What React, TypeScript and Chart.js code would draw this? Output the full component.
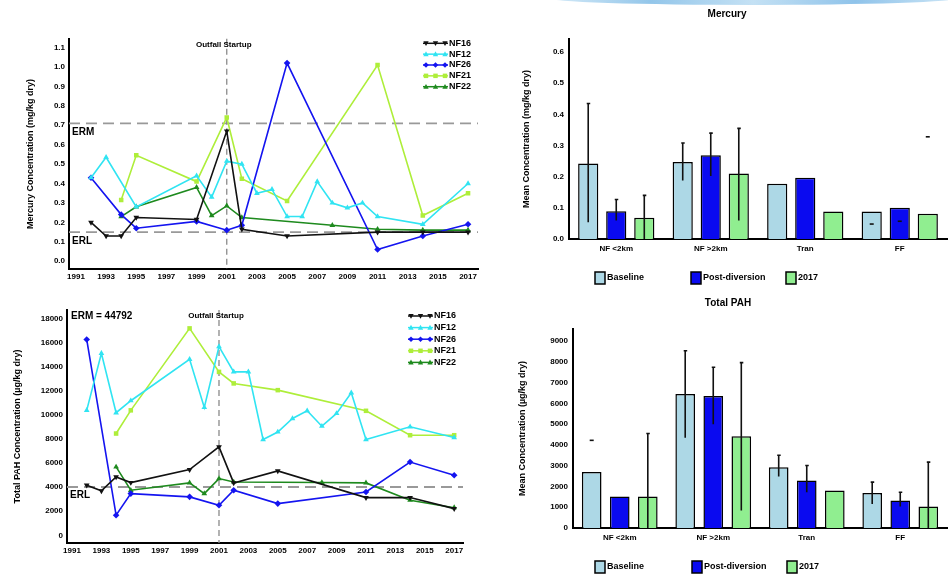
import React, { useEffect, useRef } from "react";
import { Chart, registerables } from "chart.js";

Chart.register(...registerables);

const FONT = "'Liberation Sans', Arial, sans-serif";

// ---------- Mercury time series (mg/kg dry) ----------
const hgNF16Years = [1992, 1993, 1994, 1995, 1999, 2001, 2002, 2005, 2011, 2014, 2017];
const hgNF16 = [0.2, 0.13, 0.13, 0.225, 0.215, 0.67, 0.165, 0.13, 0.15, 0.15, 0.15];
const hgNF12Years = [1992, 1993, 1995, 1999, 2000, 2001, 2002, 2003, 2004, 2005, 2006, 2007, 2008, 2009, 2010, 2011, 2014, 2017];
const hgNF12 = [0.43, 0.535, 0.28, 0.44, 0.33, 0.515, 0.5, 0.35, 0.37, 0.23, 0.23, 0.41, 0.3, 0.275, 0.3, 0.23, 0.19, 0.4];
const hgNF26Years = [1992, 1994, 1995, 1999, 2001, 2002, 2005, 2011, 2014, 2017];
const hgNF26 = [0.43, 0.24, 0.17, 0.205, 0.16, 0.185, 1.02, 0.06, 0.13, 0.19];
const hgNF21Years = [1994, 1995, 1999, 2001, 2002, 2005, 2011, 2014, 2017];
const hgNF21 = [0.315, 0.545, 0.41, 0.74, 0.425, 0.31, 1.01, 0.235, 0.35];
const hgNF22Years = [1994, 1995, 1999, 2000, 2001, 2002, 2008, 2011, 2014, 2017];
const hgNF22 = [0.23, 0.28, 0.38, 0.235, 0.285, 0.225, 0.185, 0.165, 0.16, 0.16];
const hgYTicks = [0, 0.1, 0.2, 0.3, 0.4, 0.5, 0.6, 0.7, 0.8, 0.9, 1.0, 1.1];
const hgERM = 0.71;
const hgERL = 0.15;

// ---------- Total PAH time series ----------
const pahNF16Years = [1992, 1993, 1994, 1995, 1999, 2001, 2002, 2005, 2011, 2014, 2017];
const pahNF16 = [4170, 3700, 4860, 4390, 5470, 7360, 4360, 5360, 3140, 3140, 2220];
const pahNF12Years = [1992, 1993, 1994, 1995, 1999, 2000, 2001, 2002, 2003, 2004, 2005, 2006, 2007, 2008, 2009, 2010, 2011, 2014, 2017];
const pahNF12 = [10400, 15140, 10200, 11200, 14640, 10640, 15700, 13600, 13600, 7970, 8600, 9720, 10360, 9080, 10140, 11860, 7970, 9030, 8140];
const pahNF26Years = [1992, 1994, 1995, 1999, 2001, 2002, 2005, 2011, 2014, 2017];
const pahNF26 = [16300, 1670, 3470, 3200, 2500, 3750, 2640, 3610, 6100, 5000];
const pahNF21Years = [1994, 1995, 1999, 2001, 2002, 2005, 2011, 2014, 2017];
const pahNF21 = [8470, 10400, 17220, 13600, 12640, 12080, 10360, 8330, 8330];
const pahNF22Years = [1994, 1995, 1999, 2000, 2001, 2002, 2008, 2011, 2014, 2017];
const pahNF22 = [5690, 3750, 4360, 3470, 4720, 4440, 4400, 4360, 2920, 2300];
const pahYTicks = [0, 2000, 4000, 6000, 8000, 10000, 12000, 14000, 16000, 18000];
const pahERL = 4022;
const pahERMText = "ERM = 44792";

const yearTicks = [1991, 1993, 1995, 1997, 1999, 2001, 2003, 2005, 2007, 2009, 2011, 2013, 2015, 2017];
const outfallYear = 2001;

// ---------- Bar charts ----------
const zones = ["NF <2km", "NF >2km", "Tran", "FF"];
const periods = ["Baseline", "Post-diversion", "2017"];
const periodColors = ["#ADD8E6", "#0A0AF0", "#90EE90"];

const hgBaseline = [0.242, 0.247, 0.177, 0.088];
const hgPost = [0.089, 0.269, 0.197, 0.1];
const hg2017 = [0.068, 0.21, 0.088, 0.081];
const hgBaselineErr = [[0.054, 0.435], [0.188, 0.308], null, null];
const hgPostErr = [[0.059, 0.127], [0.202, 0.34], null, null];
const hg2017Err = [[0, 0.14], [0.059, 0.355], null, null];
const hgBaselineMark = [null, null, null, 0.048];
const hgPostMark = [null, null, null, 0.057];
const hg2017Mark = [null, null, null, 0.328];
const hgBarTicks = [0, 0.1, 0.2, 0.3, 0.4, 0.5, 0.6];

const pahBaseline = [2690, 6450, 2930, 1680];
const pahPost = [1515, 6350, 2290, 1320];
const pah2017 = [1515, 4420, 1800, 1030];
const pahBaselineErr = [null, [4340, 8530], [2480, 3500], [1160, 2210]];
const pahPostErr = [null, [5000, 7740], [1720, 3010], [1030, 1720]];
const pah2017Err = [[0, 4550], [840, 7960], null, [0, 3170]];
const pahBaselineMark = [4220, null, null, null];
const pahPostMark = [null, null, null, null];
const pah2017Mark = [null, null, null, null];
const pahBarTicks = [0, 1000, 2000, 3000, 4000, 5000, 6000, 7000, 8000, 9000];

const seriesNames = ["NF16", "NF12", "NF26", "NF21", "NF22"];
const seriesColors = ["#111111", "#30E4F2", "#1414F0", "#AEEE3A", "#1E8A1E"];
const seriesStyles = ["triangle", "triangle", "rectRot", "rect", "triangle"];
const seriesRot = [180, 0, 0, 0, 0];

function drawMarker(ctx: CanvasRenderingContext2D, style: string, x: number, y: number, r: number, color: string, rot: number) {
  ctx.save();
  ctx.translate(x, y);
  ctx.rotate((rot * Math.PI) / 180);
  ctx.fillStyle = color;
  ctx.beginPath();
  if (style === "triangle") {
    ctx.moveTo(0, -r);
    ctx.lineTo(r * 0.95, r * 0.75);
    ctx.lineTo(-r * 0.95, r * 0.75);
    ctx.closePath();
  } else if (style === "rect") {
    ctx.rect(-r * 0.8, -r * 0.8, r * 1.6, r * 1.6);
  } else if (style === "rectRot") {
    ctx.moveTo(0, -r);
    ctx.lineTo(r, 0);
    ctx.lineTo(0, r);
    ctx.lineTo(-r, 0);
    ctx.closePath();
  } else {
    ctx.arc(0, 0, r, 0, Math.PI * 2);
  }
  ctx.fill();
  ctx.restore();
}

function drawYTitle(ctx: CanvasRenderingContext2D, text: string, x: number, y: number) {
  ctx.save();
  ctx.translate(x, y);
  ctx.rotate(-Math.PI / 2);
  ctx.font = `bold 9px ${FONT}`;
  ctx.fillStyle = "#000";
  ctx.textAlign = "center";
  ctx.textBaseline = "middle";
  ctx.fillText(text, 0, 0);
  ctx.restore();
}

type LineCfg = {
  years: number[][];
  values: number[][];
  xMin: number; xMax: number; yMin: number; yMax: number;
  yTicks: number[];
  fmt: (v: number) => string;
  yWidth: number; padTop: number; padRight: number; padBottom: number; xHeight: number;
  hLines: { value: number; label: string; dy: number }[];
  topText?: string;
  yTitle: string; yTitleX: number;
  legend: { x1: number; x2: number; y0: number; dy: number };
};

function makeLineConfig(c: LineCfg): any {
  const tickFont = { family: FONT, size: 8, weight: "bold" as const };
  const annot = {
    id: "annot",
    beforeDatasetsDraw(chart: any) {
      const ctx = chart.ctx as CanvasRenderingContext2D;
      const { left, right, top, bottom } = chart.chartArea;
      const ys = chart.scales.y;
      const xs = chart.scales.x;
      ctx.save();
      ctx.strokeStyle = "#999";
      ctx.lineWidth = 1.8;
      ctx.setLineDash([11, 6]);
      c.hLines.forEach((h) => {
        const py = ys.getPixelForValue(h.value);
        ctx.beginPath();
        ctx.moveTo(left, py);
        ctx.lineTo(right, py);
        ctx.stroke();
      });
      ctx.strokeStyle = "#8a8a8a";
      ctx.lineWidth = 1.3;
      ctx.setLineDash([6, 4]);
      const vx = xs.getPixelForValue(outfallYear);
      ctx.beginPath();
      ctx.moveTo(vx, top);
      ctx.lineTo(vx, bottom);
      ctx.stroke();
      ctx.restore();
    },
    afterDraw(chart: any) {
      const ctx = chart.ctx as CanvasRenderingContext2D;
      const { left, top, bottom } = chart.chartArea;
      const ys = chart.scales.y;
      const xs = chart.scales.x;
      ctx.save();
      ctx.fillStyle = "#000";
      ctx.textBaseline = "middle";
      ctx.font = `bold 10px ${FONT}`;
      ctx.textAlign = "left";
      c.hLines.forEach((h) => {
        if (h.label) ctx.fillText(h.label, left + 3, ys.getPixelForValue(h.value) + h.dy);
      });
      if (c.topText) ctx.fillText(c.topText, left + 4, top + 6);
      ctx.font = `bold 8px ${FONT}`;
      ctx.textAlign = "center";
      ctx.fillText("Outfall Startup", xs.getPixelForValue(outfallYear) - 3, top + 6);
      // legend
      const L = c.legend;
      seriesNames.forEach((name, i) => {
        const y = L.y0 + i * L.dy;
        ctx.strokeStyle = seriesColors[i];
        ctx.lineWidth = 1.5;
        ctx.setLineDash([]);
        ctx.beginPath();
        ctx.moveTo(L.x1, y);
        ctx.lineTo(L.x2, y);
        ctx.stroke();
        [L.x1 + 3, (L.x1 + L.x2) / 2, L.x2 - 3].forEach((mx) =>
          drawMarker(ctx, seriesStyles[i], mx, y, 2.8, seriesColors[i], seriesRot[i])
        );
        ctx.fillStyle = "#000";
        ctx.font = `bold 9px ${FONT}`;
        ctx.textAlign = "left";
        ctx.fillText(name, L.x2 + 1, y);
      });
      ctx.restore();
      drawYTitle(ctx, c.yTitle, c.yTitleX, (top + bottom) / 2);
    },
  };
  return {
    type: "line",
    data: {
      datasets: seriesNames.map((name, i) => ({
        label: name,
        data: c.years[i].map((x, j) => ({ x, y: c.values[i][j] })),
        borderColor: seriesColors[i],
        backgroundColor: seriesColors[i],
        pointBackgroundColor: seriesColors[i],
        pointBorderColor: seriesColors[i],
        pointBorderWidth: 0,
        pointStyle: seriesStyles[i],
        pointRotation: seriesRot[i],
        pointRadius: seriesStyles[i] === "rect" ? 3.2 : 3.3,
        borderWidth: 1.6,
        tension: 0,
        fill: false,
      })),
    },
    options: {
      animation: false,
      responsive: false,
      maintainAspectRatio: false,
      layout: { padding: { left: 0, top: c.padTop, right: c.padRight, bottom: c.padBottom } },
      plugins: { legend: { display: false }, tooltip: { enabled: false } },
      scales: {
        x: {
          type: "linear",
          min: c.xMin,
          max: c.xMax,
          grid: { display: false, drawTicks: false },
          border: { display: true, color: "#000", width: 2 },
          ticks: { font: tickFont, color: "#000", padding: 3, maxRotation: 0, autoSkip: false, callback: (v: any) => String(v) },
          afterBuildTicks: (s: any) => { s.ticks = yearTicks.map((v) => ({ value: v })); },
          afterFit: (s: any) => { s.height = c.xHeight; },
        },
        y: {
          type: "linear",
          min: c.yMin,
          max: c.yMax,
          grid: { display: false, drawTicks: false },
          border: { display: true, color: "#000", width: 2 },
          ticks: { font: tickFont, color: "#000", padding: 4, autoSkip: false, callback: (v: any) => c.fmt(Number(v)) },
          afterBuildTicks: (s: any) => { s.ticks = c.yTicks.map((v) => ({ value: v })); },
          afterFit: (s: any) => { s.width = c.yWidth; },
        },
      },
    },
    plugins: [annot],
  };
}

type BarCfg = {
  values: number[][];
  errs: (number[] | null)[][];
  marks: (number | null)[][];
  yMax: number; yTicks: number[]; fmt: (v: number) => string;
  yWidth: number; padTop: number; padBottom: number; xHeight: number;
  title: string; titleX: number; titleY: number;
  yTitle: string; yTitleX: number;
  legendXs: number[]; legendY: number;
  catPct: number; barPct: number;
};

function makeBarConfig(c: BarCfg): any {
  const tickFont = { family: FONT, size: 8, weight: "bold" as const };
  const extras = {
    id: "barExtras",
    afterDatasetsDraw(chart: any) {
      const ctx = chart.ctx as CanvasRenderingContext2D;
      const ys = chart.scales.y;
      ctx.save();
      ctx.strokeStyle = "#111";
      ctx.lineWidth = 1.6;
      c.errs.forEach((errs, di) => {
        const meta = chart.getDatasetMeta(di);
        errs.forEach((e, j) => {
          if (!e) return;
          const bx = meta.data[j].x;
          const y1 = ys.getPixelForValue(e[0]);
          const y2 = ys.getPixelForValue(e[1]);
          ctx.beginPath();
          ctx.moveTo(bx, y1);
          ctx.lineTo(bx, y2);
          ctx.moveTo(bx - 1.5, y2);
          ctx.lineTo(bx + 2, y2);
          ctx.stroke();
        });
      });
      c.marks.forEach((marks, di) => {
        const meta = chart.getDatasetMeta(di);
        marks.forEach((m, j) => {
          if (m == null) return;
          const bx = meta.data[j].x;
          const py = ys.getPixelForValue(m);
          ctx.beginPath();
          ctx.moveTo(bx - 2, py);
          ctx.lineTo(bx + 2, py);
          ctx.stroke();
        });
      });
      ctx.restore();
    },
    afterDraw(chart: any) {
      const ctx = chart.ctx as CanvasRenderingContext2D;
      const { top, bottom } = chart.chartArea;
      ctx.save();
      ctx.fillStyle = "#000";
      ctx.font = `bold 10px ${FONT}`;
      ctx.textAlign = "center";
      ctx.textBaseline = "middle";
      ctx.fillText(c.title, c.titleX, c.titleY);
      periods.forEach((p, i) => {
        const x = c.legendXs[i];
        ctx.fillStyle = periodColors[i];
        ctx.fillRect(x, c.legendY - 6, 10, 12);
        ctx.strokeStyle = "#000";
        ctx.lineWidth = 1.5;
        ctx.strokeRect(x, c.legendY - 6, 10, 12);
        ctx.fillStyle = "#000";
        ctx.font = `bold 9px ${FONT}`;
        ctx.textAlign = "left";
        ctx.fillText(p, x + 12, c.legendY);
      });
      ctx.restore();
      drawYTitle(ctx, c.yTitle, c.yTitleX, (top + bottom) / 2);
    },
  };
  return {
    type: "bar",
    data: {
      labels: zones,
      datasets: periods.map((p, i) => ({
        label: p,
        data: c.values[i],
        backgroundColor: periodColors[i],
        borderColor: "#000",
        borderWidth: 1.5,
        categoryPercentage: c.catPct,
        barPercentage: c.barPct,
      })),
    },
    options: {
      animation: false,
      responsive: false,
      maintainAspectRatio: false,
      layout: { padding: { left: 0, top: c.padTop, right: 1, bottom: c.padBottom } },
      plugins: { legend: { display: false }, tooltip: { enabled: false } },
      scales: {
        x: {
          grid: { display: false, drawTicks: false },
          border: { display: true, color: "#000", width: 2 },
          ticks: { font: tickFont, color: "#000", padding: 5, maxRotation: 0, autoSkip: false },
          afterFit: (s: any) => { s.height = c.xHeight; },
        },
        y: {
          min: 0,
          max: c.yMax,
          grid: { display: false, drawTicks: false },
          border: { display: true, color: "#000", width: 2 },
          ticks: { font: tickFont, color: "#000", padding: 5, autoSkip: false, callback: (v: any) => c.fmt(Number(v)) },
          afterBuildTicks: (s: any) => { s.ticks = c.yTicks.map((v) => ({ value: v })); },
          afterFit: (s: any) => { s.width = c.yWidth; },
        },
      },
    },
    plugins: [extras],
  };
}

function ChartBox(props: { left: number; top: number; width: number; height: number; make: () => any }) {
  const ref = useRef<HTMLCanvasElement>(null);
  useEffect(() => {
    const chart = new Chart(ref.current as HTMLCanvasElement, props.make());
    return () => chart.destroy();
  }, []);
  return (
    <canvas
      ref={ref}
      width={props.width}
      height={props.height}
      style={{ position: "absolute", left: props.left, top: props.top, width: props.width, height: props.height }}
    />
  );
}

export default function App() {
  return (
    <div style={{ position: "fixed", left: 0, top: 0, width: 948, height: 577, background: "#fff", overflow: "hidden" }}>
      <div
        style={{
          position: "absolute",
          left: 548,
          top: -9,
          width: 410,
          height: 14,
          borderRadius: "0 0 50% 50%",
          background: "linear-gradient(90deg, #d6ebf8, #93c6ea 25%, #c4e1f4 50%, #8fc3ea 75%, #cde6f6)",
        }}
      />
      <ChartBox
        left={0}
        top={30}
        width={490}
        height={260}
        make={() =>
          makeLineConfig({
            years: [hgNF16Years, hgNF12Years, hgNF26Years, hgNF21Years, hgNF22Years],
            values: [hgNF16, hgNF12, hgNF26, hgNF21, hgNF22],
            xMin: 1990.54, xMax: 2017.66, yMin: -0.04, yMax: 1.145,
            yTicks: hgYTicks,
            fmt: (v) => v.toFixed(1),
            yWidth: 69, padTop: 7, padRight: 12, padBottom: 3, xHeight: 18,
            hLines: [
              { value: hgERM, label: "ERM", dy: 9 },
              { value: hgERL, label: "ERL", dy: 9 },
            ],
            yTitle: "Mercury Concentration (mg/kg dry)",
            yTitleX: 31,
            legend: { x1: 423, x2: 448, y0: 13.3, dy: 10.85 },
          })
        }
      />
      <ChartBox
        left={0}
        top={300}
        width={490}
        height={277}
        make={() =>
          makeLineConfig({
            years: [pahNF16Years, pahNF12Years, pahNF26Years, pahNF21Years, pahNF22Years],
            values: [pahNF16, pahNF12, pahNF26, pahNF21, pahNF22],
            xMin: 1990.66, xMax: 2017.6, yMin: -640, yMax: 18750,
            yTicks: pahYTicks,
            fmt: (v) => String(v),
            yWidth: 67, padTop: 10, padRight: 27, padBottom: 16, xHeight: 18,
            hLines: [{ value: pahERL, label: "ERL", dy: 8 }],
            topText: pahERMText,
            yTitle: "Total PAH Concentration (µg/kg dry)",
            yTitleX: 18,
            legend: { x1: 408, x2: 433, y0: 16, dy: 11.6 },
          })
        }
      />
      <ChartBox
        left={490}
        top={0}
        width={458}
        height={290}
        make={() =>
          makeBarConfig({
            values: [hgBaseline, hgPost, hg2017],
            errs: [hgBaselineErr, hgPostErr, hg2017Err],
            marks: [hgBaselineMark, hgPostMark, hg2017Mark],
            yMax: 0.642, yTicks: hgBarTicks, fmt: (v) => v.toFixed(1),
            yWidth: 79, padTop: 39, padBottom: 33, xHeight: 18,
            title: "Mercury", titleX: 237, titleY: 14,
            yTitle: "Mean Concentration (mg/kg dry)", yTitleX: 37,
            legendXs: [105, 201, 296], legendY: 278,
            catPct: 0.89, barPct: 0.72,
          })
        }
      />
      <ChartBox
        left={490}
        top={290}
        width={458}
        height={287}
        make={() =>
          makeBarConfig({
            values: [pahBaseline, pahPost, pah2017],
            errs: [pahBaselineErr, pahPostErr, pah2017Err],
            marks: [pahBaselineMark, pahPostMark, pah2017Mark],
            yMax: 9580, yTicks: pahBarTicks, fmt: (v) => String(v),
            yWidth: 83, padTop: 39, padBottom: 31, xHeight: 18,
            title: "Total PAH", titleX: 238, titleY: 13,
            yTitle: "Mean Concentration (µg/kg dry)", yTitleX: 33,
            legendXs: [105, 202, 297], legendY: 277,
            catPct: 0.9, barPct: 0.7,
          })
        }
      />
    </div>
  );
}
